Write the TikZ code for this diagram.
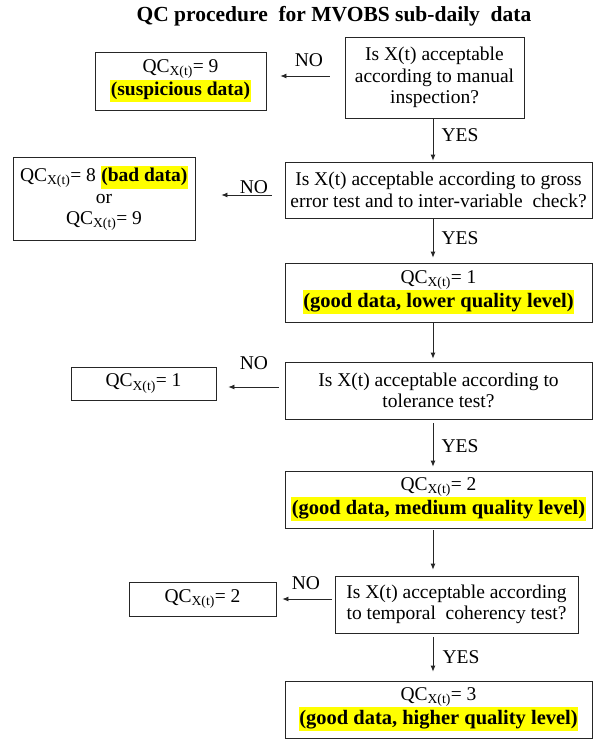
\documentclass[tikz,border=0pt]{standalone}
\usepackage{fontspec}
\setmainfont{Liberation Serif}
\usepackage{xcolor}
\usepackage{tikz}
\usetikzlibrary{arrows.meta,calc,positioning}
\definecolor{hly}{RGB}{255,255,0}
\newcommand\hlite[1]{{\setlength{\fboxsep}{0.5pt}\colorbox{hly}{\strut\bfseries #1}}}
\newcommand\hlbig[1]{{\fontsize{20.5}{23}\selectfont\hlite{#1}}}
\newcommand\qcx[1]{QC\textsubscript{X(t)}= #1}
\tikzset{
  box/.style={draw=black!85,line width=0.8pt,align=center,inner sep=0pt,
    font=\fontsize{19.5}{21.5}\selectfont},
  lbl/.style={inner sep=0pt,font=\fontsize{19.5}{21}\selectfont},
  arr/.style={-{Latex[length=6pt,width=5pt]},line width=0.8pt,draw=black!85}
}
\begin{document}
\begin{tikzpicture}[x=1pt,y=-1pt]
\useasboundingbox (0,0) rectangle (598,740);
\node[inner sep=0pt,font=\fontsize{21.5}{24}\selectfont\bfseries] (title) at (334,16) {QC procedure\ \ for MVOBS sub-daily\ \ data};
\coordinate (ax) at (433,0);
\node[box,minimum width=179,minimum height=81] (man) at (434.5,77.5) {Is X(t) acceptable\\according to manual\\inspection?};
\node[box,minimum width=171,minimum height=58] (susp) at (180.5,81) {\qcx{9}\\\hlite{(suspicious data)}};
\node[box,minimum width=307,minimum height=56] (gross) at (438.5,190) {Is X(t) acceptable according to gross\\error test and to inter-variable\ \ check?};
\node[box,minimum width=182,minimum height=83] (bad) at (104,198.5) {\qcx{8} \hlite{(bad data)}\\or\\\qcx{9}};
\node[box,minimum width=307,minimum height=59] (low) at (438.5,292.5) {\qcx{1}\\\hlbig{(good data, lower quality level)}};
\node[box,minimum width=307,minimum height=57] (tol) at (438.5,390.5) {Is X(t) acceptable according to\\tolerance test?};
\node[box,minimum width=145,minimum height=33] (tolno) at (143.5,383.5) {\qcx{1}};
\node[box,minimum width=307,minimum height=57] (med) at (438.5,499.5) {\qcx{2}\\\hlbig{(good data, medium quality level)}};
\node[box,minimum width=243,minimum height=57] (temp) at (456.5,604.5) {Is X(t) acceptable according\\to temporal\ \ coherency test?};
\node[box,minimum width=147,minimum height=34] (tempno) at (202.5,599) {\qcx{2}};
\node[box,minimum width=307,minimum height=57] (high) at (438.5,709.5) {\qcx{3}\\\hlbig{(good data, higher quality level)}};
\node[lbl] (no1) at (309,60) {NO};
\node[lbl] (no2) at (254,187) {NO};
\node[lbl] (no3) at (254,363) {NO};
\node[lbl] (no4) at (306,583) {NO};
\node[lbl] (yes1) at (460,135) {YES};
\node[lbl] (yes2) at (460,238) {YES};
\node[lbl] (yes3) at (460,446) {YES};
\node[lbl] (yes4) at (461,657) {YES};
\draw[arr,shorten <=15pt,shorten >=14pt] ([yshift=1.5pt]man.west) -- ([yshift=1.5pt]man.west -| susp.east);
\draw[arr,shorten <=13pt,shorten >=26pt] ([yshift=-5pt]gross.west) -- ([yshift=-5pt]gross.west -| bad.east);
\draw[arr,shorten <=6pt,shorten >=12pt] ([yshift=3.5pt]tol.west) -- ([yshift=3.5pt]tol.west -| tolno.east);
\draw[arr,shorten <=3pt,shorten >=6pt] ([yshift=5.5pt]temp.west) -- ([yshift=5.5pt]temp.west -| tempno.east);
\draw[arr,shorten >=1pt] (man.south -| ax) -- (gross.north -| ax);
\draw[arr,shorten <=1pt,shorten >=5pt] (gross.south -| ax) -- (low.north -| ax);
\draw[arr,shorten <=1pt,shorten >=3pt] (low.south -| ax) -- (tol.north -| ax);
\draw[arr,shorten <=4pt,shorten >=4pt] (tol.south -| ax) -- (med.north -| ax);
\draw[arr,shorten <=2pt,shorten >=6pt] (med.south -| ax) -- (temp.north -| ax);
\draw[arr,shorten <=4pt,shorten >=9pt] (temp.south -| ax) -- (high.north -| ax);
\end{tikzpicture}
\end{document}
